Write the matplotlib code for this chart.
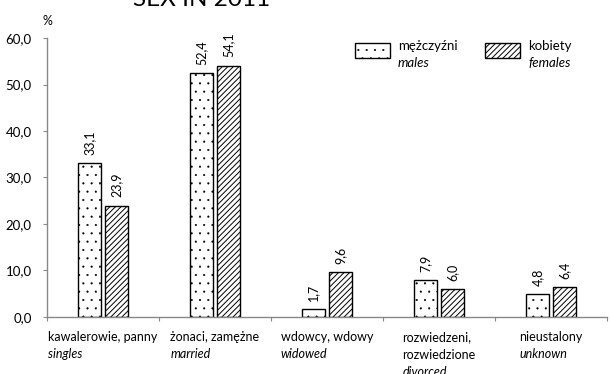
import matplotlib.pyplot as plt
import numpy as np

plt.rcParams['font.family'] = ['Lato', 'DejaVu Sans']
plt.rcParams['hatch.linewidth'] = 0.7

# marital status categories, Polish / English
cats_pl = ['kawalerowie, panny', 'żonaci, zamężne', 'wdowcy, wdowy',
           'rozwiedzeni,\nrozwiedzione', 'nieustalony']
cats_en = ['singles', 'married', 'widowed', 'divorced', 'unknown']
males = [33.1, 52.4, 1.7, 7.9, 4.8]
females = [23.9, 54.1, 9.6, 6.0, 6.4]
yticks = [0, 10, 20, 30, 40, 50, 60]

fig = plt.figure(figsize=(6.1, 3.74), dpi=100)
ax = fig.add_axes([0.077, 0.153, 0.918, 0.745])

x = np.arange(len(cats_pl))
w = 0.21
b1 = ax.bar(x - 0.12, males, w, color='white', edgecolor='black',
            linewidth=1.0, hatch='..', label='mężczyźni')
b2 = ax.bar(x + 0.12, females, w, color='white', edgecolor='black',
            linewidth=1.0, hatch='//////', label='kobiety')
for r in b1:
    if hasattr(r, 'set_hatch_linewidth'):
        r.set_hatch_linewidth(0.3)

# value labels above bars, rotated
for bars, vals in [(b1, males), (b2, females)]:
    for r, v in zip(bars, vals):
        ax.annotate(f'{v:.1f}'.replace('.', ','),
                    (r.get_x() + r.get_width() / 2, v),
                    xytext=(0, 6), textcoords='offset points',
                    rotation=90, ha='center', va='bottom', fontsize=9)

ax.set_xlim(-0.5, len(cats_pl) - 0.5)
ax.set_ylim(0, 60)
ax.set_yticks(yticks)
ax.set_yticklabels([f'{t:.1f}'.replace('.', ',') for t in yticks], fontsize=9.5)
ax.tick_params(axis='y', length=3, color='#888888', pad=8)

# category separators on the x axis
ax.set_xticks(np.arange(len(cats_pl) + 1) - 0.5)
ax.set_xticklabels([])
ax.tick_params(axis='x', length=3, color='#888888')

for s in ['top', 'right']:
    ax.spines[s].set_visible(False)
for s in ['left', 'bottom']:
    ax.spines[s].set_color('#888888')
    ax.spines[s].set_linewidth(1.0)

# category labels: Polish block centred under the group, English below it
pl_texts = []
for i, pl in enumerate(cats_pl):
    t = ax.text(i, -0.052, pl, transform=ax.get_xaxis_transform(),
                ha='center', va='top', multialignment='left',
                fontsize=9, linespacing=1.6)
    pl_texts.append(t)
fig.canvas.draw()
rend = fig.canvas.get_renderer()
for t, en in zip(pl_texts, cats_en):
    bb = t.get_window_extent(rend)
    fig.text(bb.x0 / 610, (bb.y0 - 5) / 374, en, ha='left', va='top',
             fontsize=9, style='italic')

ax.text(0, 1.04, '%', transform=ax.transAxes, ha='center', va='bottom',
        fontsize=9)

# legend drawn by hand: swatch plus two-line label
for xs, hatch, pl, en in [(355, '..', 'mężczyźni', 'males'),
                          (485, '//////', 'kobiety', 'females')]:
    fx, fy = xs / 610, 1 - 58 / 374
    sw = plt.Rectangle((fx, fy), 35 / 610, 15 / 374,
                       transform=fig.transFigure, facecolor='white',
                       edgecolor='black', hatch=hatch, linewidth=1.0)
    if hatch == '..' and hasattr(sw, 'set_hatch_linewidth'):
        sw.set_hatch_linewidth(0.3)
    fig.patches.append(sw)
    fig.text(fx + 43 / 610, 1 - 46 / 374, pl, fontsize=9.5, va='center')
    fig.text(fx + 43 / 610, 1 - 63 / 374, en, fontsize=9.5, va='center',
             style='italic')

fig.text(0.218, 1.0, 'SEX IN 2011', fontsize=17.5, va='center', ha='left')

fig.savefig('out.png', dpi=100)
